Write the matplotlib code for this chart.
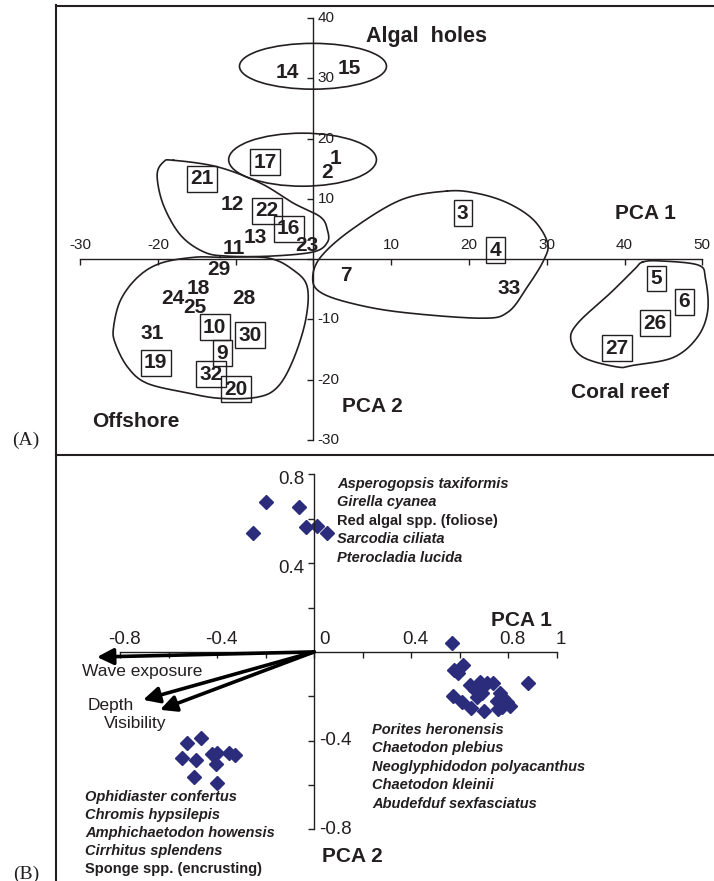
import numpy as np
import matplotlib
matplotlib.use("Agg")
import matplotlib.pyplot as plt
from matplotlib.patches import Ellipse
from matplotlib.lines import Line2D

plt.rcParams['font.family'] = ['Liberation Sans', 'DejaVu Sans']
ink = '#231f20'
navy = '#2b2c7c'

# ---------------- panel A data: site scores ----------------
site_labels = ['14', '15', '17', '1', '2', '21', '12', '22', '16', '13', '11', '23',
               '29', '18', '24', '25', '28', '10', '30', '31', '9', '19', '32', '20',
               '7', '3', '4', '33', '5', '6', '26', '27']
site_x = [-3.3, 4.6, -6.2, 2.8, 1.8, -14.3, -10.4, -6.0, -3.2, -7.5, -10.2, -0.8,
          -12.2, -14.8, -18.1, -15.3, -8.9, -12.7, -8.2, -20.7, -11.7, -20.3, -13.2, -10.0,
          4.2, 19.2, 23.4, 25.2, 44.1, 47.7, 43.9, 39.0]
site_y = [31.0, 31.7, 16.1, 16.7, 14.4, 13.3, 9.1, 8.0, 5.0, 3.6, 1.8, 2.3,
          -1.8, -4.8, -6.5, -8.1, -6.5, -11.3, -12.6, -12.3, -15.6, -17.2, -19.1, -21.6,
          -2.7, 7.6, 1.5, -4.8, -3.2, -7.1, -10.6, -14.8]
boxed = ['17', '21', '22', '16', '10', '30', '9', '19', '32', '20', '3', '4', '5', '6', '26', '27']

# group outlines (ellipses: centre x, centre y, width, height)
ellipses = [(-0.06, 32.0, 18.9, 7.6), (-1.4, 16.5, 19.0, 8.8)]
hull_reef_x = [-18.0, -12.3, -6.8, -2.6, 0.9, 1.8, 1.8, 0.0, -5.5, -11.1, -14.1, -17.1, -19.3, -20.1, -19.3]
hull_reef_y = [16.4, 15.3, 12.6, 9.3, 7.0, 4.8, 2.8, 1.2, 0.5, 0.5, 1.2, 4.0, 9.0, 13.9, 16.1]
hull_off_x = [-12.0, -5.9, -2.6, -0.8, -1.0, -2.6, -4.6, -7.2, -12.0, -16.2, -21.4, -23.9, -25.5, -25.7, -24.8, -22.6, -19.7, -15.4]
hull_off_y = [0.3, 0.2, -1.8, -4.6, -10.1, -16.7, -21.2, -22.9, -23.1, -22.2, -20.6, -17.9, -13.9, -11.3, -6.8, -3.0, -0.7, 0.3]
hull_mid_x = [17.2, 11.2, 4.8, 0.9, -0.1, 0.9, 4.8, 11.2, 21.5, 25.0, 27.5, 29.6, 30.1, 28.3, 25.0, 21.1]
hull_mid_y = [11.3, 9.8, 4.8, 0.3, -3.2, -5.5, -7.3, -8.8, -9.8, -8.8, -4.6, -0.2, 2.7, 6.5, 9.3, 10.9]
hull_coral_x = [42.3, 44.6, 49.5, 50.4, 50.7, 49.4, 46.3, 41.2, 39.1, 34.7, 33.1, 34.0, 38.2, 41.2]
hull_coral_y = [-0.5, -0.3, -1.0, -3.2, -8.5, -12.9, -16.3, -17.6, -17.9, -16.3, -13.4, -10.6, -5.6, -1.8]

a_xticks = [-30, -20, -10, 0, 10, 20, 30, 40, 50]
a_xlabels = ['-30', '-20', '', '', '10', '20', '30', '40', '50']
a_yticks = [-30, -20, -10, 0, 10, 20, 30, 40]
a_ylabels = ['-30', '-20', '-10', '', '10', '20', '30', '40']

# ---------------- panel B data: species loadings ----------------
algal_x = [-0.252, -0.198, -0.062, -0.033, 0.012, 0.054]
algal_y = [0.536, 0.676, 0.653, 0.563, 0.568, 0.536]
coral_x = [0.569, 0.614, 0.577, 0.594, 0.643, 0.664, 0.685, 0.713, 0.738, 0.693, 0.672, 0.767,
           0.779, 0.755, 0.796, 0.808, 0.775, 0.759, 0.882, 0.573, 0.610, 0.647, 0.701]
coral_y = [0.041, -0.059, -0.081, -0.095, -0.149, -0.171, -0.135, -0.140, -0.140, -0.185, -0.203, -0.185,
           -0.207, -0.221, -0.225, -0.243, -0.248, -0.257, -0.140, -0.198, -0.225, -0.252, -0.266]
off_x = [-0.524, -0.466, -0.544, -0.487, -0.421, -0.400, -0.404, -0.351, -0.326, -0.495, -0.400]
off_y = [-0.410, -0.387, -0.477, -0.486, -0.459, -0.455, -0.505, -0.455, -0.464, -0.563, -0.590]

env_names = ['Wave exposure', 'Depth', 'Visibility']
env_x = [-0.895, -0.705, -0.635]
env_y = [-0.023, -0.216, -0.261]

algal_species = ['Asperogopsis taxiformis', 'Girella cyanea', 'Red algal spp. (foliose)',
                 'Sarcodia ciliata', 'Pterocladia lucida']
coral_species = ['Porites heronensis', 'Chaetodon plebius', 'Neoglyphidodon polyacanthus',
                 'Chaetodon kleinii', 'Abudefduf sexfasciatus']
off_species = ['Ophidiaster confertus', 'Chromis hypsilepis', 'Amphichaetodon howensis',
               'Cirrhitus splendens', 'Sponge spp. (encrusting)']

b_xticks = [-0.8, -0.6, -0.4, -0.2, 0, 0.2, 0.4, 0.6, 0.8, 1.0]
b_xlabels = {-0.8: '-0.8', -0.4: '-0.4', 0.4: '0.4', 0.8: '0.8', 1.0: '1'}
b_yticks = [-0.8, -0.6, -0.4, -0.2, 0, 0.2, 0.4, 0.6, 0.8]


def closed_spline(xs, ys, n=24):
    pts = np.column_stack([xs, ys])
    N = len(pts)
    t = np.linspace(0, 1, n, endpoint=False)[:, None]
    segs = []
    for i in range(N):
        p0, p1, p2, p3 = pts[i - 1], pts[i], pts[(i + 1) % N], pts[(i + 2) % N]
        segs.append(0.5 * (2 * p1 + (-p0 + p2) * t + (2 * p0 - 5 * p1 + 4 * p2 - p3) * t ** 2
                           + (-p0 + 3 * p1 - 3 * p2 + p3) * t ** 3))
    segs.append(segs[0][:1])
    out = np.vstack(segs)
    return out[:, 0], out[:, 1]


def centre_axes(ax):
    for s in ['top', 'right']:
        ax.spines[s].set_visible(False)
    ax.spines['left'].set_position(('data', 0))
    ax.spines['bottom'].set_position(('data', 0))
    for s in ['left', 'bottom']:
        ax.spines[s].set_color(ink)
        ax.spines[s].set_linewidth(1.0)
    ax.tick_params(direction='out', length=4, width=1, color=ink,
                   labelbottom=False, labelleft=False)
    ax.patch.set_alpha(0)


fig = plt.figure(figsize=(7.14, 8.81), dpi=100)

# ================= panel A =================
axA = fig.add_axes([56 / 714, (881 - 455) / 881, 658 / 714, 449 / 881])
axA.set_xlim(-33.1, 51.5)
axA.set_ylim(-32.5, 42.0)
centre_axes(axA)
axA.spines['left'].set_bounds(-30, 40)
axA.spines['bottom'].set_bounds(-30, 50)
axA.set_xticks(a_xticks)
axA.set_yticks(a_yticks)

for v, lab in zip(a_xticks, a_xlabels):
    if lab:
        axA.annotate(lab, (v, 0), xytext=(0, 10), textcoords='offset points',
                     ha='center', va='center', fontsize=11, color=ink)
for v, lab in zip(a_yticks, a_ylabels):
    if lab:
        axA.annotate(lab, (0, v), xytext=(3, 0), textcoords='offset points',
                     ha='left', va='center', fontsize=11, color=ink)

for cx, cy, w, h in ellipses:
    axA.add_patch(Ellipse((cx, cy), w, h, fill=False, ec=ink, lw=1.2))
for hx, hy in [(hull_reef_x, hull_reef_y), (hull_off_x, hull_off_y),
               (hull_mid_x, hull_mid_y), (hull_coral_x, hull_coral_y)]:
    sx, sy = closed_spline(hx, hy)
    axA.plot(sx, sy, color=ink, lw=1.2)

for lab, x, y in zip(site_labels, site_x, site_y):
    kw = {}
    if lab in boxed:
        kw['bbox'] = dict(boxstyle='square,pad=0.16', fc='none', ec=ink, lw=1.0)
    axA.text(x, y, lab, ha='center', va='center', fontsize=15, fontweight='bold',
             color=ink, **kw)

axA.text(14.5, 37.0, 'Algal  holes', ha='center', va='center', fontsize=15.5, fontweight='bold', color=ink)
axA.text(42.7, 7.6, 'PCA 1', ha='center', va='center', fontsize=15, fontweight='bold', color=ink)
axA.text(7.6, -24.5, 'PCA 2', ha='center', va='center', fontsize=15, fontweight='bold', color=ink)
axA.text(39.4, -22.1, 'Coral reef', ha='center', va='center', fontsize=15, fontweight='bold', color=ink)
axA.text(-22.9, -27.0, 'Offshore', ha='center', va='center', fontsize=15, fontweight='bold', color=ink)

# ================= panel B =================
axB = fig.add_axes([56 / 714, 0, 658 / 714, 426 / 881])
axB.set_xlim(-1.064, 1.649)
axB.set_ylim(-1.032, 0.887)
centre_axes(axB)
axB.spines['left'].set_bounds(-0.8, 0.8)
axB.spines['bottom'].set_bounds(-0.8, 1.0)
axB.set_xticks(b_xticks)
axB.set_yticks(b_yticks)

for v, lab in b_xlabels.items():
    axB.annotate(lab, (v, 0), xytext=(3, 9), textcoords='offset points',
                 ha='center', va='center', fontsize=13.5, color=ink)
axB.annotate('0', (0, 0), xytext=(4, 9), textcoords='offset points',
             ha='left', va='center', fontsize=13.5, color=ink)
for v in [0.8, 0.4]:
    axB.annotate(f'{v:g}', (0, v), xytext=(-7, -4), textcoords='offset points',
                 ha='right', va='center', fontsize=13.5, color=ink)
for v in [-0.4, -0.8]:
    axB.annotate(f'{v:g}', (0, v), xytext=(4, 0), textcoords='offset points',
                 ha='left', va='center', fontsize=13.5, color=ink)

for xs, ys in [(algal_x, algal_y), (coral_x, coral_y), (off_x, off_y)]:
    axB.plot(xs, ys, linestyle='none', marker='D', markersize=7, color=navy, mec=navy)

for name, x, y in zip(env_names, env_x, env_y):
    axB.annotate('', xy=(x, y), xytext=(0, 0),
                 arrowprops=dict(arrowstyle='-|>,head_length=0.7,head_width=0.35',
                                 lw=2.6, color='black', mutation_scale=14,
                                 shrinkA=0, shrinkB=0))
axB.text(-0.957, -0.090, 'Wave exposure', ha='left', va='center', fontsize=12.5, color=ink)
axB.text(-0.932, -0.243, 'Depth', ha='left', va='center', fontsize=12.5, color=ink)
axB.text(-0.866, -0.324, 'Visibility', ha='left', va='center', fontsize=12.5, color=ink)

def species_block(names, x, y0, dy):
    for i, name in enumerate(names):
        style = 'normal' if 'spp.' in name else 'italic'
        axB.text(x, y0 - i * dy, name, ha='left', va='center', fontsize=10.5,
                 fontweight='bold', fontstyle=style, color=ink)

species_block(algal_species, 0.095, 0.757, 0.0835)
species_block(coral_species, 0.239, -0.351, 0.0835)
species_block(off_species, -0.944, -0.653, 0.081)

axB.text(0.854, 0.140, 'PCA 1', ha='center', va='center', fontsize=15, fontweight='bold', color=ink)
axB.text(0.033, -0.923, 'PCA 2', ha='left', va='center', fontsize=15, fontweight='bold', color=ink)

# ================= frame and panel letters =================
fw, fh = 714, 881
frame_kw = dict(color=ink, lw=1.5, transform=fig.transFigure)
fig.add_artist(Line2D([56 / fw, 56 / fw], [0, 1 - 5 / fh], **frame_kw))
fig.add_artist(Line2D([56 / fw, 1], [1 - 6 / fh, 1 - 6 / fh], **frame_kw))
fig.add_artist(Line2D([56 / fw, 1], [1 - 455 / fh, 1 - 455 / fh], **frame_kw))
fig.text(26 / fw, 1 - 440 / fh, '(A)', ha='center', va='center', fontsize=14,
         family=['Liberation Serif', 'DejaVu Serif'], color=ink)
fig.text(26 / fw, 1 - 874 / fh, '(B)', ha='center', va='center', fontsize=14,
         family=['Liberation Serif', 'DejaVu Serif'], color=ink)

fig.savefig('out.png', dpi=100)
